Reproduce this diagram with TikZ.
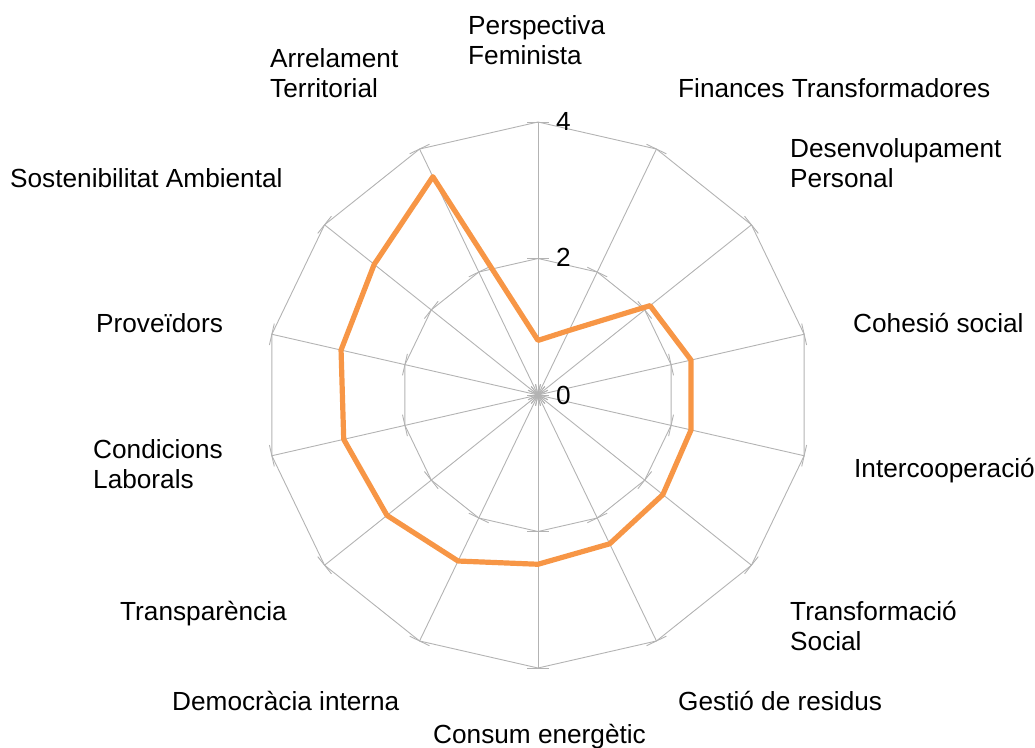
\documentclass[tikz,border=0pt]{standalone}
\usepackage{fontspec}
\setmainfont{Liberation Sans}
\definecolor{gridgray}{RGB}{179,179,179}
\definecolor{seriesorange}{RGB}{247,150,70}
\tikzset{
  gridline/.style={draw=gridgray, line width=0.9pt},
  dataline/.style={draw=seriesorange, line width=5.2pt, line join=round},
  lab/.style={anchor=base west, inner sep=0pt, align=left, font=\fontsize{26.2}{30}\selectfont},
}
\begin{document}
\begin{tikzpicture}[x=1pt,y=-1pt]
\useasboundingbox (0,0) rectangle (1035,747);
\begin{scope}[shift={(538,395)}]
  % spokes and ticks
  \foreach \i in {0,...,13} {
    \pgfmathsetmacro\ang{\i*360/14-90}
    \draw[gridline] (0,0) -- (\ang:273);
    \foreach \r in {0,136.5,273}
      \draw[gridline, shift={(\ang:\r)}] (\ang+90:11) -- (\ang-90:11);
  }
  % rings
  \foreach \r in {136.5,273}
    \draw[gridline] (-90:\r) \foreach \i in {1,...,13} { -- (\i*360/14-90:\r) } -- cycle;
  % data
  \foreach \v [count=\k from 0] in {0.8,1.05,2.1,2.3,2.3,2.34,2.42,2.48,2.7,2.83,2.92,2.96,3.07,3.55}
    \coordinate (p\k) at (\k*360/14-90:\v*68.25);
  \draw[dataline] (p0) -- (p1) -- (p2) -- (p3) -- (p4) -- (p5) -- (p6) -- (p7) -- (p8) -- (p9) -- (p10) -- (p11) -- (p12) -- (p13) -- cycle;
\end{scope}
% scale values
\node[lab] (v4) at (556,130) {4};
\node[lab] (v2) at (556,266) {2};
\node[lab] (v0) at (556,404) {0};
% axis labels (multi-line nodes are anchored at the baseline of their last line)
\node[lab] (l0) at (468,64) {Perspectiva\\Feminista};
\node[lab] (l1) at (678,97) {Finances Transformadores};
\node[lab] (l2) at (790,187) {Desenvolupament\\Personal};
\node[lab] (l3) at (853,332) {Cohesió social};
\node[lab] (l4) at (854,477) {Intercooperació};
\node[lab] (l5) at (790,650) {Transformació\\Social};
\node[lab] (l6) at (678,710) {Gestió de residus};
\node[lab] (l7) at (433,743) {Consum energètic};
\node[lab] (l8) at (172,710) {Democràcia interna};
\node[lab] (l9) at (120,620) {Transparència};
\node[lab] (l10) at (93,488) {Condicions\\Laborals};
\node[lab] (l11) at (96,332) {Proveïdors};
\node[lab] (l12) at (10,187) {Sostenibilitat Ambiental};
\node[lab] (l13) at (270,97) {Arrelament\\Territorial};
\end{tikzpicture}
\end{document}
